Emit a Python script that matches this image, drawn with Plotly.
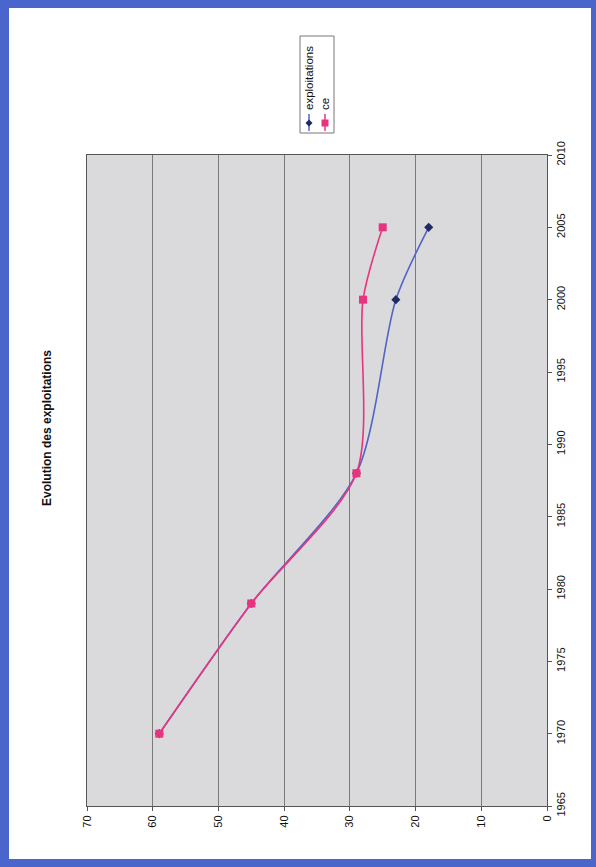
import plotly.graph_objects as go

# Evolution of the number of farms (exploitations) and of "ce"
years = [1970, 1979, 1988, 2000, 2005]
exploitations = [59, 45, 29, 23, 18]
ce = [59, 45, 29, 28, 25]

value_ticks = [0, 10, 20, 30, 40, 50, 60, 70]
year_ticks = [1965, 1970, 1975, 1980, 1985, 1990, 1995, 2000, 2005, 2010]

title_text = "Evolution des exploitations"
legend_names = ["exploitations", "ce"]

W, H = 596, 867
# plot area in pixels (left, right, top, bottom)
PL, PR, PT, PB = 87, 547, 155, 806

BLUE_LINE = "#5264c4"
BLUE_MARK = "#1e2a66"
PINK = "#e8337f"
FONT = "Liberation Sans, Arial, sans-serif"


def px_x(px):
    return (px - PL) / (PR - PL)


def px_y(py):
    return (PB - py) / (PB - PT)


fig = go.Figure()

# the page is turned a quarter turn: values run along x (reversed), years along y
fig.add_trace(go.Scatter(
    x=exploitations, y=years, mode="lines+markers", name=legend_names[0],
    line=dict(color=BLUE_LINE, width=1.6, shape="spline", smoothing=0.8),
    marker=dict(symbol="diamond", size=7, color=BLUE_MARK),
    showlegend=False,
))
fig.add_trace(go.Scatter(
    x=ce, y=years, mode="lines+markers", name=legend_names[1],
    line=dict(color=PINK, width=1.6, shape="spline", smoothing=0.8),
    marker=dict(symbol="square", size=8, color=PINK),
    showlegend=False,
))

shapes = []
# blue page border + white sheet + grey plot area
shapes.append(dict(type="rect", xref="paper", yref="paper",
                   x0=px_x(9), x1=px_x(591), y0=px_y(859), y1=px_y(8),
                   fillcolor="white", line=dict(width=0), layer="below"))
shapes.append(dict(type="rect", xref="paper", yref="paper",
                   x0=0, x1=1, y0=0, y1=1,
                   fillcolor="#dadadd", line=dict(width=0), layer="below"))

# legend box, turned with the page
LB = dict(l=300, r=334, t=36, b=133)
shapes.append(dict(type="rect", xref="paper", yref="paper",
                   x0=px_x(LB["l"]), x1=px_x(LB["r"]),
                   y0=px_y(LB["b"]), y1=px_y(LB["t"]),
                   fillcolor="white", line=dict(color="#777777", width=1), layer="above"))

DIAMOND = "M 0,-3.5 L 3.5,0 L 0,3.5 L -3.5,0 Z"
SQUARE = "M -3.5,-3.5 L 3.5,-3.5 L 3.5,3.5 L -3.5,3.5 Z"
legend_items = [
    (legend_names[0], 309, BLUE_LINE, BLUE_MARK, DIAMOND),
    (legend_names[1], 325, PINK, PINK, SQUARE),
]
annotations = []
for name, cx, lc, mc, sym_path in legend_items:
    shapes.append(dict(type="line", xref="paper", yref="paper",
                       x0=px_x(cx), x1=px_x(cx), y0=px_y(131), y1=px_y(114),
                       line=dict(color=lc, width=1.5), layer="above"))
    shapes.append(dict(type="path", xref="paper", yref="paper",
                       xsizemode="pixel", ysizemode="pixel",
                       xanchor=px_x(cx), yanchor=px_y(123),
                       path=sym_path, fillcolor=mc, line=dict(width=0),
                       layer="above"))
    annotations.append(dict(
        text=name, textangle=-90, xref="paper", yref="paper",
        x=px_x(cx), y=px_y(112), xanchor="center", yanchor="bottom",
        showarrow=False, font=dict(family=FONT, size=11.5, color="#111111"),
    ))

# title
annotations.append(dict(
    text="<b>" + title_text + "</b>", textangle=-90, xref="paper", yref="paper",
    x=px_x(47), y=px_y(428), xanchor="center", yanchor="middle",
    showarrow=False, font=dict(family=FONT, size=12, color="#111111"),
))

fig.update_layout(
    width=W, height=H,
    margin=dict(l=PL, r=W - PR, t=PT, b=H - PB, autoexpand=False),
    paper_bgcolor="#4a66cc",
    plot_bgcolor="rgba(0,0,0,0)",
    font=dict(family=FONT, size=11, color="#111111"),
    shapes=shapes,
    annotations=annotations,
    xaxis=dict(
        range=[70, 0], tickvals=value_ticks, ticktext=[str(v) for v in value_ticks],
        tickangle=-90, showgrid=True, gridcolor="#7a7a7a", gridwidth=1,
        showline=True, linecolor="#555555", linewidth=1, mirror=True,
        ticks="outside", ticklen=4, tickcolor="#555555", zeroline=False,
        fixedrange=True,
    ),
    yaxis=dict(
        range=[1965, 2010], tickvals=year_ticks, ticktext=[str(v) for v in year_ticks],
        side="right", tickangle=-90, showgrid=False,
        showline=True, linecolor="#555555", linewidth=1, mirror=True,
        ticks="outside", ticklen=4, tickcolor="#555555", zeroline=False,
        fixedrange=True,
    ),
)

fig.write_html("out.html")
